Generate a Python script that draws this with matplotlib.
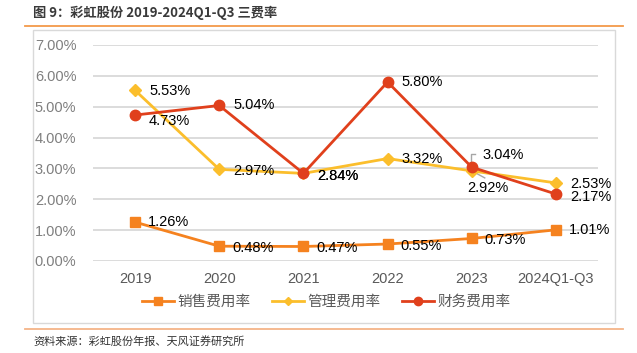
import matplotlib
matplotlib.use("Agg")
import matplotlib.pyplot as plt
from matplotlib.patches import Rectangle
from matplotlib.lines import Line2D
from matplotlib.transforms import IdentityTransform

categories = ["2019", "2020", "2021", "2022", "2023", "2024Q1-Q3"]
sales = [1.26, 0.48, 0.47, 0.55, 0.73, 1.01]
admin = [5.53, 2.97, 2.84, 3.32, 2.92, 2.53]
finance = [4.73, 5.04, 2.84, 5.80, 3.04, 2.17]
names = ["销售费用率", "管理费用率", "财务费用率"]
yticks = [0, 1, 2, 3, 4, 5, 6, 7]

c_sales = "#F5821F"
c_admin = "#FBBE2C"
c_fin = "#E0401C"

W, H = 637, 353
fig = plt.figure(figsize=(W / 100, H / 100), dpi=100)
num_font = ["Liberation Sans", "Noto Sans CJK SC"]
cjk_font = ["Noto Sans CJK SC", "DejaVu Sans"]

# decorations
fig.add_artist(Line2D([25 / W, 623 / W], [1 - 26 / H, 1 - 26 / H], color="#F39A4A", lw=1.3))
fig.add_artist(Line2D([25 / W, 623 / W], [1 - 329 / H, 1 - 329 / H], color="#F5B488", lw=1.3))
fig.add_artist(Rectangle((33 / W, 1 - 323 / H), (615 - 33) / W, (323 - 30) / H,
                         fill=False, edgecolor="#D9D9D9", lw=1.0))
fig.text(33 / W, 1 - 13 / H, "图 9：彩虹股份 2019-2024Q1-Q3 三费率", family=cjk_font,
         fontsize=9.5, fontweight="bold", color="#3A3A3A", va="center", ha="left")
fig.text(33 / W, 1 - 341 / H, "资料来源：彩虹股份年报、天风证券研究所", family=cjk_font,
         fontsize=8, color="#333333", va="center", ha="left")

ax = fig.add_axes([93 / W, 1 - 261 / H, (598 - 93) / W, (261 - 45) / H])
x = list(range(len(categories)))
ax.set_xlim(-0.5, len(categories) - 0.5)
ax.set_ylim(0, 7)
ax.set_yticks(yticks)
ax.set_yticklabels([f"{v:.2f}%" for v in yticks], family=num_font, fontsize=10.5, color="#7F7F7F")
ax.set_xticks(x)
ax.set_xticklabels(categories, family=num_font, fontsize=10.5, color="#595959")
ax.tick_params(length=0, pad=8)
ax.tick_params(axis="y", pad=12)
for s in ax.spines.values():
    s.set_visible(False)
ax.grid(axis="y", color="#D9D9D9", lw=1.3)
ax.set_axisbelow(True)
ax.patch.set_alpha(0)

l1, = ax.plot(x, sales, color=c_sales, lw=2.0, marker="s", ms=7, label=names[0], zorder=3)
l2, = ax.plot(x, admin, color=c_admin, lw=2.0, marker="D", ms=6, label=names[1], zorder=3)
l3, = ax.plot(x, finance, color=c_fin, lw=2.0, marker="o", ms=7.5, label=names[2], zorder=4)

def lab(xi, v, dx=13, dy=0):
    ax.annotate(f"{v:.2f}%", (xi, v), xytext=(dx, dy), textcoords="offset pixels",
                ha="left", va="center", family=num_font, fontsize=10.5, color="#000000", zorder=6)

for i, v in enumerate(sales):
    lab(i, v, 13, -2 if i in (1, 2, 3, 4) else 0)
for i, v in enumerate(admin):
    if i == 4:
        continue
    dy = {0: -1, 1: -2, 2: -3, 3: 0, 5: -1}[i]
    lab(i, v, 14, dy)
for i, v in enumerate(finance):
    if i == 4:
        continue
    dy = {0: -6, 1: 0, 2: -3, 3: 0, 5: -3}[i]
    lab(i, v, 14, dy)

# 2023 labels with leader lines
ax.annotate(f"{finance[4]:.2f}%", (4, finance[4]), xytext=(11, 12), textcoords="offset pixels",
            ha="left", va="center", family=num_font, fontsize=10.5, color="#000000", zorder=6)
ax.annotate(f"{admin[4]:.2f}%", (4, admin[4]), xytext=(-5, -17), textcoords="offset pixels",
            ha="left", va="center", family=num_font, fontsize=10.5, color="#000000", zorder=6)

def leader(xi, v, offs):
    px, py = ax.transData.transform((xi, v))
    xs = [px + dx for dx, dy in offs]
    ys = [py + dy for dx, dy in offs]
    ax.add_artist(Line2D(xs, ys, color="#A6A6A6", lw=1.0, transform=IdentityTransform(), zorder=2))

leader(4, finance[4], [(-1, 3), (-1, 13), (3, 13)])
leader(4, admin[4], [(2, -1), (13, -7)])

leg = fig.legend(handles=[l1, l2, l3], loc="center", bbox_to_anchor=(326 / W, 1 - 302 / H),
                 ncol=3, frameon=False, prop={"family": cjk_font, "size": 10.5},
                 handlelength=2.2, columnspacing=1.45, handletextpad=0.25)
for t in leg.get_texts():
    t.set_color("#595959")
for h, ms in zip(leg.legend_handles, [5.5, 4.5, 6.0]):
    h.set_markersize(ms)

fig.savefig("out.png", dpi=100)
